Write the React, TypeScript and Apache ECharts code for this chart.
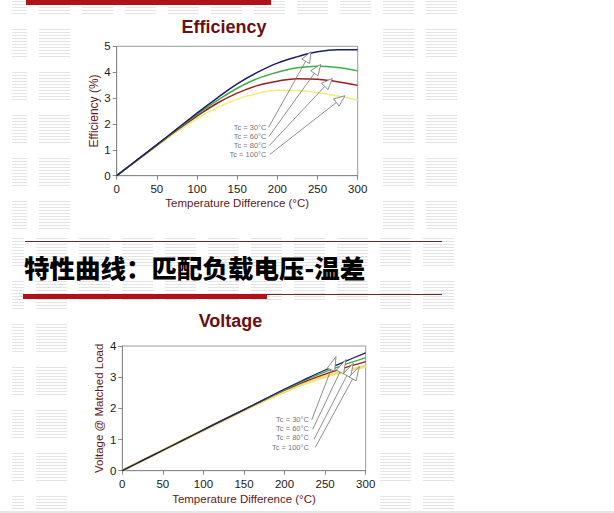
import React, { useEffect, useRef } from "react";
import * as echarts from "echarts";

// ---------- data ----------
const tempDiff = [0, 25, 50, 75, 100, 125, 150, 175, 200, 225, 250, 275, 300];

const efficiency30 = [0, 0.6, 1.2, 1.81, 2.42, 3.0, 3.55, 3.99, 4.35, 4.6, 4.79, 4.87, 4.87];
const efficiency60 = [0, 0.6, 1.19, 1.79, 2.37, 2.9, 3.38, 3.75, 4.0, 4.17, 4.23, 4.18, 4.05];
const efficiency80 = [0, 0.59, 1.18, 1.76, 2.3, 2.8, 3.19, 3.48, 3.65, 3.75, 3.73, 3.63, 3.49];
const efficiency100 = [0, 0.57, 1.14, 1.7, 2.21, 2.63, 2.96, 3.18, 3.3, 3.29, 3.21, 3.08, 2.93];

const voltage30 = [0, 0.33, 0.655, 0.98, 1.31, 1.64, 1.96, 2.29, 2.62, 2.93, 3.23, 3.51, 3.78];
const voltage60 = [0, 0.33, 0.655, 0.98, 1.31, 1.64, 1.96, 2.28, 2.6, 2.9, 3.17, 3.41, 3.63];
const voltage80 = [0, 0.33, 0.655, 0.98, 1.31, 1.63, 1.95, 2.27, 2.58, 2.86, 3.1, 3.31, 3.5];
const voltage100 = [0, 0.33, 0.655, 0.98, 1.3, 1.62, 1.94, 2.25, 2.54, 2.8, 3.02, 3.2, 3.35];

const tcLabels = ["Tc = 30°C", "Tc = 60°C", "Tc = 80°C", "Tc = 100°C"];

// annotation anchors (data coordinates)
const effLabelAnchors = [[186.5, 1.862], [186.5, 1.515], [186.5, 1.167], [186.5, 0.82]];
const effArrowTails = [[189, 1.862], [189.5, 1.515], [190, 1.167], [190.5, 0.82]];
const effArrowTips = [[241.9, 4.79], [254, 4.3], [268.4, 3.76], [284.2, 3.09]];

const voltLabelAnchors = [[230, 1.627], [230, 1.338], [230, 1.049], [230, 0.75]];
const voltArrowTails = [[233.5, 1.63], [234.7, 1.33], [236.3, 1.01], [237.9, 0.75]];
const voltArrowTips = [[263.4, 3.66], [275.7, 3.57], [284.7, 3.45], [292.1, 3.34]];

const mainTitle = "特性曲线：匹配负载电压-温差";
const effTitle = "Efficiency";
const voltTitle = "Voltage";
const xName = "Temperature Difference (°C)";
const effYName = "Efficiency (%)";
const voltYName = "Voltage @ Matched Load";

// ---------- styles ----------
const FONT = "'Liberation Sans', Arial, sans-serif";
const lineColors = ["#1d1d6e", "#41ad4a", "#9c1d1d", "#eeee7a"];
const voltColors = ["#1d1d6e", "#41ad4a", "#9c1d1d", "#f3e07a"];
const maroon = "#5e1b1b";

function stripeTile(): string {
  let s = "<svg xmlns='http://www.w3.org/2000/svg' width='43' height='43'>";
  for (let y = 1; y < 29; y += 3) {
    s += `<rect x='0' y='${y}' width='31' height='1' fill='#e3e3e3'/>`;
  }
  s += "</svg>";
  return `url("data:image/svg+xml,${encodeURIComponent(s)}")`;
}

function arrowRenderer(len: number, half: number) {
  return (_params: any, api: any) => {
    const p1 = api.coord([api.value(0), api.value(1)]);
    const p2 = api.coord([api.value(2), api.value(3)]);
    const dx = p2[0] - p1[0];
    const dy = p2[1] - p1[1];
    const d = Math.hypot(dx, dy) || 1;
    const ux = dx / d;
    const uy = dy / d;
    const bx = p2[0] - ux * len;
    const by = p2[1] - uy * len;
    const nx = -uy * half;
    const ny = ux * half;
    return {
      type: "group",
      children: [
        {
          type: "line",
          shape: { x1: p1[0], y1: p1[1], x2: bx, y2: by },
          style: { stroke: "#707070", lineWidth: 0.8 },
        },
        {
          type: "polygon",
          shape: { points: [[p2[0], p2[1]], [bx + nx, by + ny], [bx - nx, by - ny]] },
          style: { fill: "#ffffff", stroke: "#707070", lineWidth: 0.8 },
        },
      ],
    };
  };
}

function axisX(gridIndex: number, nameGap: number) {
  return {
    gridIndex,
    type: "value",
    min: 0,
    max: 300,
    interval: 50,
    name: xName,
    nameLocation: "middle",
    nameGap,
    nameTextStyle: { color: maroon, fontSize: 11.5, fontFamily: FONT },
    axisLine: { show: true, lineStyle: { color: "#888", width: 1 } },
    axisTick: { show: true, length: 4, lineStyle: { color: "#888" } },
    axisLabel: { color: "#1a1a1a", fontSize: 11.5, fontFamily: FONT, margin: 7 },
    splitLine: { show: false },
  };
}

function axisY(gridIndex: number, max: number, name: string, nameGap: number, nameSize: number) {
  return {
    gridIndex,
    type: "value",
    min: 0,
    max,
    interval: 1,
    name,
    nameLocation: "middle",
    nameGap,
    nameRotate: 90,
    nameTextStyle: { color: maroon, fontSize: nameSize, fontFamily: FONT },
    axisLine: { show: true, lineStyle: { color: "#888", width: 1 } },
    axisTick: { show: true, length: 4, lineStyle: { color: "#888" } },
    axisLabel: { color: "#1a1a1a", fontSize: 11.5, fontFamily: FONT, margin: 6 },
    splitLine: { show: false },
  };
}

function curve(values: number[], color: string, idx: number, width: number) {
  return {
    type: "line",
    xAxisIndex: idx,
    yAxisIndex: idx,
    data: tempDiff.map((x, i) => [x, values[i]]),
    smooth: 0.4,
    symbol: "none",
    lineStyle: { color, width },
    z: 3,
  };
}

function labelSeries(idx: number, anchors: number[][]) {
  return {
    type: "scatter",
    xAxisIndex: idx,
    yAxisIndex: idx,
    data: anchors,
    symbolSize: 0,
    silent: true,
    label: {
      show: true,
      position: "left",
      distance: 0,
      color: "#4a4a4a",
      fontSize: 7.5,
      fontFamily: FONT,
      formatter: (p: any) => tcLabels[p.dataIndex],
    },
    z: 4,
  };
}

function arrowSeries(idx: number, tails: number[][], tips: number[][], len: number, half: number) {
  return {
    type: "custom",
    xAxisIndex: idx,
    yAxisIndex: idx,
    data: tails.map((t, i) => [t[0], t[1], tips[i][0], tips[i][1]]),
    encode: { x: [0, 2], y: [1, 3] },
    renderItem: arrowRenderer(len, half),
    clip: false,
    silent: true,
    z: 5,
  };
}

export default function App() {
  const ref = useRef<HTMLDivElement>(null);

  useEffect(() => {
    if (!ref.current) return;
    const chart = echarts.init(ref.current, undefined, { renderer: "svg" });
    chart.setOption({
      animation: false,
      backgroundColor: "transparent",
      grid: [
        { left: 116.7, top: 46.3, width: 241, height: 129.4, show: true, borderColor: "#999", borderWidth: 1 },
        { left: 122.3, top: 346, width: 243.4, height: 124.7, show: true, borderColor: "#999", borderWidth: 1 },
      ],
      xAxis: [axisX(0, 21), axisX(1, 22)],
      yAxis: [axisY(0, 5, effYName, 16, 12), axisY(1, 4, voltYName, 17, 11.5)],
      series: [
        curve(efficiency100, lineColors[3], 0, 1.5),
        curve(efficiency80, lineColors[2], 0, 1.5),
        curve(efficiency60, lineColors[1], 0, 1.5),
        curve(efficiency30, lineColors[0], 0, 1.5),
        labelSeries(0, effLabelAnchors),
        arrowSeries(0, effArrowTails, effArrowTips, 11, 4.5),
        curve(voltage100, voltColors[3], 1, 3),
        curve(voltage80, voltColors[2], 1, 1.3),
        curve(voltage60, voltColors[1], 1, 1.3),
        curve(voltage30, voltColors[0], 1, 1.3),
        labelSeries(1, voltLabelAnchors),
        arrowSeries(1, voltArrowTails, voltArrowTips, 14, 4),
      ],
      graphic: [
        { type: "rect", shape: { x: 26, y: 0, width: 245, height: 5 }, style: { fill: "#b0121a" } },
        { type: "line", shape: { x1: 25, y1: 241.5, x2: 442, y2: 241.5 }, style: { stroke: "#6a2a2a", lineWidth: 1 } },
        { type: "rect", shape: { x: 23, y: 294, width: 244, height: 5 }, style: { fill: "#b0121a" } },
        { type: "line", shape: { x1: 267, y1: 294.5, x2: 442, y2: 294.5 }, style: { stroke: "#6a2a2a", lineWidth: 1 } },
        { type: "rect", shape: { x: 0, y: 511, width: 614, height: 2 }, style: { fill: "#e3e7ec" } },
        {
          type: "text",
          style: {
            text: effTitle, x: 224, y: 27, textAlign: "center", textVerticalAlign: "middle",
            font: `bold 18px ${FONT}`, fill: "#6b1010",
          },
        },
        {
          type: "text",
          style: {
            text: voltTitle, x: 230.5, y: 321, textAlign: "center", textVerticalAlign: "middle",
            font: `bold 18px ${FONT}`, fill: "#6b1010",
          },
        },
        {
          type: "text",
          style: {
            text: mainTitle, x: 24, y: 266, textAlign: "left", textVerticalAlign: "middle",
            font: `900 25.5px 'Noto Sans CJK SC', sans-serif`, fill: "#000000",
          },
        },
      ],
    });
    return () => chart.dispose();
  }, []);

  const tile = stripeTile();
  return (
    <div style={{ position: "fixed", left: 0, top: 0, width: 614, height: 513, background: "#ffffff", overflow: "hidden" }}>
      <div style={{ position: "absolute", left: 12, top: 0, width: 450, height: 232, backgroundImage: tile, backgroundPosition: "27px -15px", backgroundRepeat: "repeat" }} />
      <div style={{ position: "absolute", left: 12, top: 232, width: 450, height: 281, backgroundImage: tile, backgroundPosition: "24px 5px", backgroundRepeat: "repeat" }} />
      <div style={{ position: "absolute", left: 72, top: 15, width: 306, height: 214, background: "#ffffff" }} />
      <div style={{ position: "absolute", left: 72, top: 300, width: 306, height: 213, background: "#ffffff" }} />
      <div ref={ref} style={{ position: "absolute", left: 0, top: 0, width: 614, height: 513 }} />
    </div>
  );
}
